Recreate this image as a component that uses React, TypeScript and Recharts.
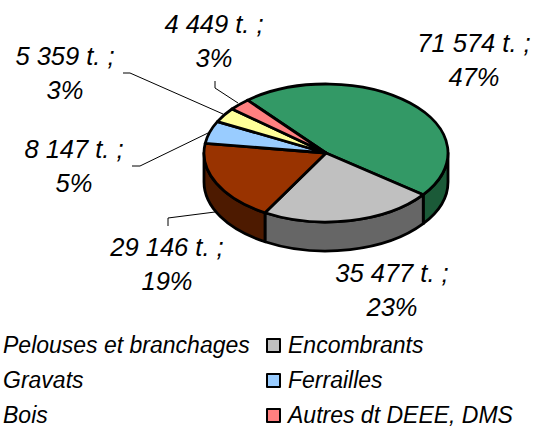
import { PieChart, Pie, Cell, Legend } from 'recharts';

const names = ['Pelouses et branchages', 'Encombrants', 'Bois', 'Ferrailles', 'Gravats', 'Autres dt DEEE, DMS'];
const tonnes = [71574, 35477, 29146, 8147, 5359, 4449];
const tonneLabels = ['71 574 t. ;', '35 477 t. ;', '29 146 t. ;', '8 147 t. ;', '5 359 t. ;', '4 449 t. ;'];
const percentLabels = ['47%', '23%', '19%', '5%', '3%', '3%'];
const topColors = ['#339966', '#C0C0C0', '#993300', '#99CCFF', '#FFFF99', '#FF8080'];
const wallColors = ['#1B5A38', '#666666', '#4D1A00', '#4D6680', '#80804D', '#804040'];
const legendRows = [[0, 1], [4, 3], [2, 5]];

const table = names.map((name, i) => ({ name, value: tonnes[i] }));

const WIDTH = 537;
const HEIGHT = 427;
const CX = 326;
const CY = 153;
const RX = 122;
const SQUASH = 69 / 122;
const DEPTH = 29;
const EDGE = 2.8;
const FONT = '"Liberation Sans", Arial, sans-serif';

// where each data label sits, and its leader line if it has one
const labelCenters = [[474, 52], [392, 282], [167, 256], [74, 158], [65, 65], [214, 33]];
const leaders: (string | null)[] = [
  null,
  null,
  '168,226 168,218 215,212',
  '132,166 140,166 208,133',
  '123,73 130,73 223,114',
  '215,81 215,88 238,103',
];

const pt = (cx: number, cy: number, r: number, deg: number) => {
  const a = (deg * Math.PI) / 180;
  return [cx + r * Math.cos(a), cy - r * SQUASH * Math.sin(a)];
};

// flat top of a slice, squashed into an ellipse
function TopSlice(props: any) {
  const { cx, cy, outerRadius: r, startAngle, endAngle, fill } = props;
  const [x1, y1] = pt(cx, cy, r, startAngle);
  const [x2, y2] = pt(cx, cy, r, endAngle);
  const large = Math.abs(startAngle - endAngle) > 180 ? 1 : 0;
  const d = `M${cx},${cy} L${x1},${y1} A${r},${r * SQUASH} 0 ${large} 1 ${x2},${y2} Z`;
  return <path d={d} fill={fill} stroke="#000" strokeWidth={EDGE} strokeLinejoin="round" />;
}

// side wall, only the part of the slice that faces the viewer (angles -180..0)
function WallSlice(props: any) {
  const { cx, cy, outerRadius: r, startAngle, endAngle, fill } = props;
  const from = Math.min(startAngle, 0);
  const to = Math.max(endAngle, -180);
  if (from <= to) return null;
  const [x1, y1] = pt(cx, cy, r, from);
  const [x2, y2] = pt(cx, cy, r, to);
  const ry = r * SQUASH;
  const d = `M${x1},${y1} A${r},${ry} 0 0 1 ${x2},${y2} L${x2},${y2 + DEPTH} A${r},${ry} 0 0 0 ${x1},${y1 + DEPTH} Z`;
  return <path d={d} fill={fill} stroke="#000" strokeWidth={EDGE} strokeLinejoin="round" />;
}

function DataLabel(props: any) {
  const i = props.index;
  const [x, y] = labelCenters[i];
  return (
    <g>
      {leaders[i] && <polyline points={leaders[i] as string} fill="none" stroke="#000" strokeWidth={1} />}
      <text x={x} y={y} textAnchor="middle" fontFamily={FONT} fontStyle="italic" fontSize={25.5} fill="#000">
        {tonneLabels[i]}
      </text>
      <text x={x} y={y + 33.5} textAnchor="middle" fontFamily={FONT} fontStyle="italic" fontSize={25.5} fill="#000">
        {percentLabels[i]}
      </text>
    </g>
  );
}

function LegendBlock() {
  return (
    <div style={{ position: 'relative', width: WIDTH, height: 98, fontFamily: FONT, fontStyle: 'italic', fontSize: 23, color: '#000' }}>
      {legendRows.map((row, r) =>
        row.map((idx, c) => (
          <div key={idx} style={{ position: 'absolute', top: r * 35, left: c === 0 ? 3 : 288, whiteSpace: 'nowrap', lineHeight: '32px' }}>
            {c === 1 && (
              <span
                style={{
                  position: 'absolute',
                  left: -22,
                  top: 9,
                  width: 11,
                  height: 11,
                  background: topColors[idx],
                  border: '2px solid #000',
                  borderRadius: 1,
                }}
              />
            )}
            {names[idx]}
          </div>
        )),
      )}
    </div>
  );
}

export default function App() {
  return (
    <div style={{ position: 'absolute', left: 0, top: 0, width: WIDTH, height: HEIGHT, overflow: 'hidden', background: '#fff' }}>
      <PieChart width={WIDTH} height={HEIGHT} margin={{ top: 0, right: 0, bottom: 0, left: 0 }}>
        <Pie
          data={table}
          dataKey="value"
          nameKey="name"
          cx={CX}
          cy={CY}
          outerRadius={RX}
          startAngle={130}
          endAngle={-230}
          legendType="none"
          stroke="none"
          shape={WallSlice}
          isAnimationActive={false}
        >
          {table.map((_, i) => <Cell key={i} fill={wallColors[i]} />)}
        </Pie>
        <Pie
          data={table}
          dataKey="value"
          nameKey="name"
          cx={CX}
          cy={CY}
          outerRadius={RX}
          startAngle={130}
          endAngle={-230}
          shape={TopSlice}
          label={DataLabel}
          labelLine={false}
          isAnimationActive={false}
        >
          {table.map((_, i) => <Cell key={i} fill={topColors[i]} />)}
        </Pie>
        <Legend
          content={LegendBlock}
          wrapperStyle={{ position: 'absolute', left: 0, top: 329, width: WIDTH, height: 98 }}
        />
      </PieChart>
    </div>
  );
}
